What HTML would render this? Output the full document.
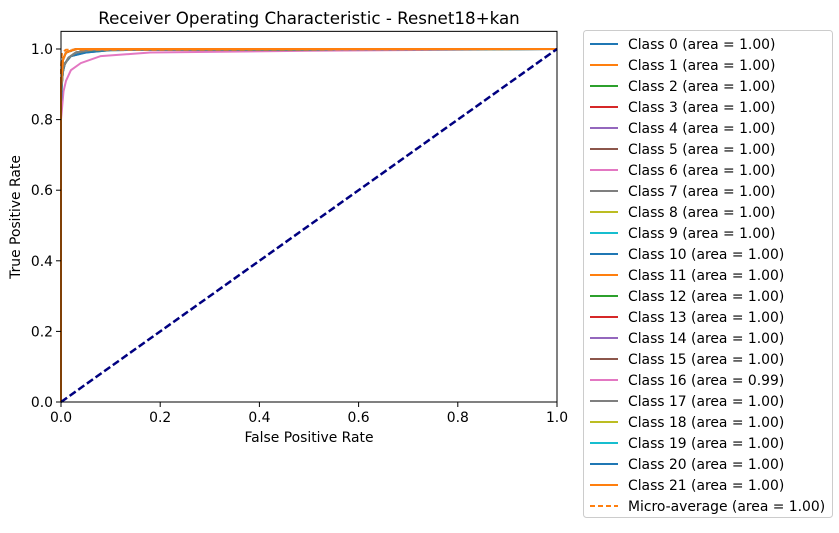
<!DOCTYPE html>
<html><head><meta charset="utf-8"><style>
body{margin:0;background:#fff;font-family:"Liberation Sans","DejaVu Sans",sans-serif;}
svg text{font-family:"DejaVu Sans","Liberation Sans",sans-serif;}
</style></head><body>
<svg id="chart" width="839" height="528" xmlns="http://www.w3.org/2000/svg">
<rect width="839" height="528" fill="#fff"/>
<text x="309" y="24" font-size="16.7" text-anchor="middle">Receiver Operating Characteristic - Resnet18+kan</text>
<g id="plot"></g>
<g id="axes"></g>
<text x="309" y="442" font-size="13.9" text-anchor="middle">False Positive Rate</text>
<text x="20" y="217" font-size="13.9" text-anchor="middle" transform="rotate(-90 20 217)">True Positive Rate</text>
<g id="legend"></g>
</svg>
<script>
const classNames=["Class 0","Class 1","Class 2","Class 3","Class 4","Class 5","Class 6","Class 7","Class 8","Class 9","Class 10","Class 11","Class 12","Class 13","Class 14","Class 15","Class 16","Class 17","Class 18","Class 19","Class 20","Class 21"];
const aucs=[1.00,1.00,1.00,1.00,1.00,1.00,1.00,1.00,1.00,1.00,1.00,1.00,1.00,1.00,1.00,1.00,0.99,1.00,1.00,1.00,1.00,1.00];
const microAuc=1.00;
const xTicks=[0,0.2,0.4,0.6,0.8,1.0];
const yTicks=[0,0.2,0.4,0.6,0.8,1.0];
const fprA=[0,0,0.004,0.01,0.03,1];
const tprA=[0,0.9,0.97,0.99,1,1];
const fprB=[0,0,0.003,0.008,0.02,0.05,0.1,1];
const tprB=[0,0.85,0.93,0.96,0.98,0.99,0.997,1];
const fprC=[0,0,0.005,0.015,0.03,0.06,1];
const tprC=[0,0.88,0.95,0.975,0.99,0.997,1];
const fpr16=[0,0,0.005,0.01,0.02,0.04,0.08,0.18,0.5,1];
const tpr16=[0,0.8,0.88,0.91,0.94,0.96,0.98,0.99,0.995,1];
const fprMicro=[0,0,0.002,0.01,1];
const tprMicro=[0,0.95,0.99,0.998,1];
const colors=["#1f77b4","#ff7f0e","#2ca02c","#d62728","#9467bd","#8c564b","#e377c2","#7f7f7f","#bcbd22","#17becf"];
const X0=61,X1=557,Y0=402,Yper=353;
const sx=v=>X0+v*(X1-X0), sy=v=>Y0-v*Yper;
const NS="http://www.w3.org/2000/svg";
function mk(tag,attrs,parent){const e=document.createElementNS(NS,tag);for(const k in attrs)e.setAttribute(k,attrs[k]);parent.appendChild(e);return e;}
const plot=document.getElementById('plot');
function curve(f,t,col,dash,w,name){
  const d=f.map((v,i)=>(i?'L':'M')+sx(v).toFixed(1)+' '+sy(t[i]).toFixed(1)).join(' ');
  const p=mk('path',{d:d,fill:'none',stroke:col,'stroke-width':w},plot);
  if(dash)p.setAttribute('stroke-dasharray',dash);
  
  
}
const order=[16,0,10,2,12,7,17,3,4,5,6,8,9,11,13,14,15,18,19,20,21,1];
order.forEach(i=>{
  let f=fprA,t=tprA;
  if(i===16){f=fpr16;t=tpr16;}else if(i===0||i===10){f=fprB;t=tprB;}else if(i===2||i===12||i===7||i===17){f=fprC;t=tprC;}
  curve(f,t,colors[i%10],null,2,'roc-curve-class-'+i);
});
curve(fprMicro,tprMicro,'#ff7f0e','5,3',2,'roc-curve-micro-average');
curve([0,1],[0,1],'#000080','7.4,3.2',2.5,'chance-diagonal');
const ax=document.getElementById('axes');
const fr=mk('rect',{x:X0,y:sy(1.05),width:X1-X0,height:Y0-sy(1.05),fill:'none',stroke:'#000','stroke-width':1},ax);

xTicks.forEach(v=>{
  mk('line',{x1:sx(v),x2:sx(v),y1:Y0,y2:Y0+5,stroke:'#000'},ax);
  const t=mk('text',{x:sx(v),y:Y0+20,'font-size':13.9,'text-anchor':'middle'},ax);t.textContent=v.toFixed(1);
  
});
yTicks.forEach(v=>{
  mk('line',{x1:X0-5,x2:X0,y1:sy(v),y2:sy(v),stroke:'#000'},ax);
  const t=mk('text',{x:X0-8,y:sy(v)+5,'font-size':13.9,'text-anchor':'end'},ax);t.textContent=v.toFixed(1);
  
});
const lg=document.getElementById('legend');
const lb=mk('rect',{x:583.5,y:30.5,width:249,height:487,rx:3,fill:'#fff',stroke:'#ccc'},lg);

const labels=classNames.map((n,i)=>n+' (area = '+aucs[i].toFixed(2)+')');
labels.push('Micro-average (area = '+microAuc.toFixed(2)+')');
labels.forEach((s,i)=>{
  const y=44+i*21;
  const g=mk('g',{},lg);
  
  
  const micro=i===labels.length-1;
  const l=mk('line',{x1:590,x2:618,y1:y,y2:y,stroke:micro?'#ff7f0e':colors[i%10],'stroke-width':2},g);
  if(micro)l.setAttribute('stroke-dasharray','5,3');
  const t=mk('text',{x:628,y:y+5,'font-size':13.9},g);t.textContent=s;
});
</script>
</body></html>
